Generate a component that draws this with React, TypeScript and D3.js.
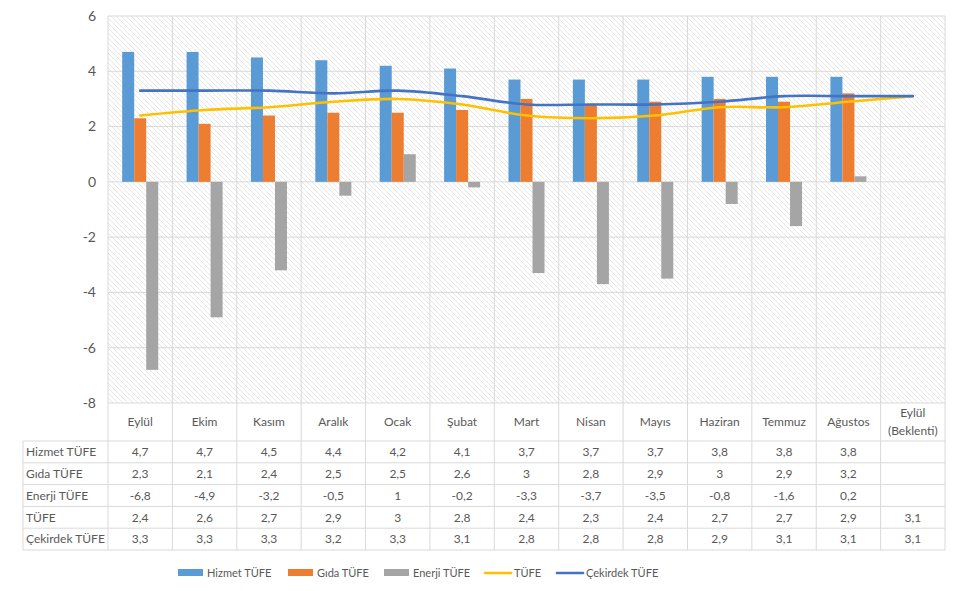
import * as d3 from 'd3';
import React from 'react';

const months = ['Eylül', 'Ekim', 'Kasım', 'Aralık', 'Ocak', 'Şubat', 'Mart', 'Nisan', 'Mayıs', 'Haziran', 'Temmuz', 'Ağustos', 'Eylül (Beklenti)'];
const hizmet: (number | null)[] = [4.7, 4.7, 4.5, 4.4, 4.2, 4.1, 3.7, 3.7, 3.7, 3.8, 3.8, 3.8, null];
const gida: (number | null)[] = [2.3, 2.1, 2.4, 2.5, 2.5, 2.6, 3, 2.8, 2.9, 3, 2.9, 3.2, null];
const enerji: (number | null)[] = [-6.8, -4.9, -3.2, -0.5, 1, -0.2, -3.3, -3.7, -3.5, -0.8, -1.6, 0.2, null];
const tufe: number[] = [2.4, 2.6, 2.7, 2.9, 3, 2.8, 2.4, 2.3, 2.4, 2.7, 2.7, 2.9, 3.1];
const cekirdek: number[] = [3.3, 3.3, 3.3, 3.2, 3.3, 3.1, 2.8, 2.8, 2.8, 2.9, 3.1, 3.1, 3.1];
const yTicks = [6, 4, 2, 0, -2, -4, -6, -8];

const barSeries = [
  { name: 'Hizmet TÜFE', values: hizmet, color: '#5B9BD5' },
  { name: 'Gıda TÜFE', values: gida, color: '#ED7D31' },
  { name: 'Enerji TÜFE', values: enerji, color: '#A5A5A5' },
];
const lineSeries = [
  { name: 'TÜFE', values: tufe, color: '#FFC000' },
  { name: 'Çekirdek TÜFE', values: cekirdek, color: '#4472C4' },
];

const fmt = (v: number | null) => (v === null ? '' : String(v).replace('.', ','));

export default function App() {
  const left = 108, right = 945, top = 16, bottom = 403;
  const tableLeft = 23;
  const headerH = 38;
  const rowH = 21.8;
  const grid = '#d9d9d9';
  const textColor = '#595959';
  const font = 'Lato, "Noto Sans", sans-serif';
  const tableFont = 12;

  const x = d3.scaleBand<string>().domain(months).range([left, right]).padding(0);
  const bw = x.bandwidth();
  const x1 = d3.scaleBand<string>().domain(barSeries.map(s => s.name)).range([0, bw]).paddingInner(0).paddingOuter(1.18);
  const y = d3.scaleLinear().domain([-8, 6]).range([bottom, top]);

  const line = d3.line<number>()
    .x((_, i) => (x(months[i]) as number) + bw / 2)
    .y(d => y(d))
    .curve(d3.curveCatmullRom.alpha(0.5));

  const rows = [...barSeries, ...lineSeries];
  const tableTop = bottom + headerH;
  const tableBottom = tableTop + rows.length * rowH;

  const legendItems = [
    { name: 'Hizmet TÜFE', color: '#5B9BD5', type: 'bar', x: 178 },
    { name: 'Gıda TÜFE', color: '#ED7D31', type: 'bar', x: 288 },
    { name: 'Enerji TÜFE', color: '#A5A5A5', type: 'bar', x: 384 },
    { name: 'TÜFE', color: '#FFC000', type: 'line', x: 485 },
    { name: 'Çekirdek TÜFE', color: '#4472C4', type: 'line', x: 557 },
  ];
  const legendY = 573;

  return (
    <svg width={961} height={591} style={{ position: 'absolute', left: 0, top: 0, display: 'block', fontFamily: font }}>
      <defs>
        <pattern id="hatch" width="5" height="5" patternUnits="userSpaceOnUse">
          <rect width="5" height="5" fill="#fff" />
          <path d="M0,0 L5,5 M-1,4 L1,6 M4,-1 L6,1" stroke="#dcdcdc" strokeWidth="0.7" />
        </pattern>
      </defs>
      <rect x={left} y={top} width={right - left} height={bottom - top} fill="url(#hatch)" />
      {/* horizontal gridlines */}
      {yTicks.map(t => (
        <line key={'h' + t} x1={left} x2={right} y1={y(t)} y2={y(t)} stroke={grid} strokeWidth={1} />
      ))}
      {/* vertical gridlines through plot and table */}
      {months.map((m, i) => (
        <line key={'v' + i} x1={x(m) as number} x2={x(m) as number} y1={top} y2={tableBottom} stroke={grid} strokeWidth={1} />
      ))}
      <line x1={right} x2={right} y1={top} y2={tableBottom} stroke={grid} strokeWidth={1} />
      {/* y axis labels */}
      {yTicks.map(t => (
        <text key={'yl' + t} x={96} y={y(t)} dy="0.35em" textAnchor="end" fontSize={14} fill={textColor}>{t}</text>
      ))}
      {/* bars */}
      {barSeries.map(s => (
        <g key={s.name}>
          {s.values.map((v, i) => v === null ? null : (
            <rect key={i}
              x={(x(months[i]) as number) + (x1(s.name) as number)}
              y={y(Math.max(0, v))}
              width={x1.bandwidth()}
              height={Math.abs(y(v) - y(0))}
              fill={s.color} />
          ))}
        </g>
      ))}
      {/* lines */}
      {lineSeries.map(s => (
        <path key={s.name} d={line(s.values) || ''} fill="none" stroke={s.color} strokeWidth={2.6} strokeLinecap="round" />
      ))}
      {/* table */}
      {months.map((m, i) => {
        const cx = (x(m) as number) + bw / 2;
        const parts = m === 'Eylül (Beklenti)' ? ['Eylül', '(Beklenti)'] : [m];
        return (
          <text key={'hd' + i} x={cx} textAnchor="middle" fontSize={tableFont} fill={textColor}>
            {parts.map((p, j) => (
              <tspan key={j} x={cx} y={parts.length === 1 ? bottom + headerH / 2 + 4 : bottom + 14 + j * 18}>{p}</tspan>
            ))}
          </text>
        );
      })}
      <line x1={tableLeft} x2={right} y1={tableTop} y2={tableTop} stroke={grid} />
      {rows.map((r, ri) => (
        <g key={'r' + ri}>
          <line x1={tableLeft} x2={right} y1={tableTop + (ri + 1) * rowH} y2={tableTop + (ri + 1) * rowH} stroke={grid} />
          <text x={tableLeft + 3} y={tableTop + ri * rowH + rowH / 2} dy="0.35em" fontSize={tableFont} fill={textColor}>{r.name}</text>
          {r.values.map((v, i) => (
            <text key={i} x={(x(months[i]) as number) + bw / 2} y={tableTop + ri * rowH + rowH / 2} dy="0.35em" textAnchor="middle" fontSize={tableFont} fill={textColor}>{fmt(v)}</text>
          ))}
        </g>
      ))}
      <line x1={tableLeft} x2={tableLeft} y1={tableTop} y2={tableBottom} stroke={grid} />
      {/* legend */}
      {legendItems.map(l => (
        <g key={l.name}>
          {l.type === 'bar'
            ? <rect x={l.x} y={legendY - 4} width={25} height={7} fill={l.color} />
            : <line x1={l.x} x2={l.x + 26} y1={legendY} y2={legendY} stroke={l.color} strokeWidth={2.6} strokeLinecap="round" />}
          <text x={l.x + 29} y={legendY} dy="0.35em" fontSize={11} fill={textColor}>{l.name}</text>
        </g>
      ))}
    </svg>
  );
}
